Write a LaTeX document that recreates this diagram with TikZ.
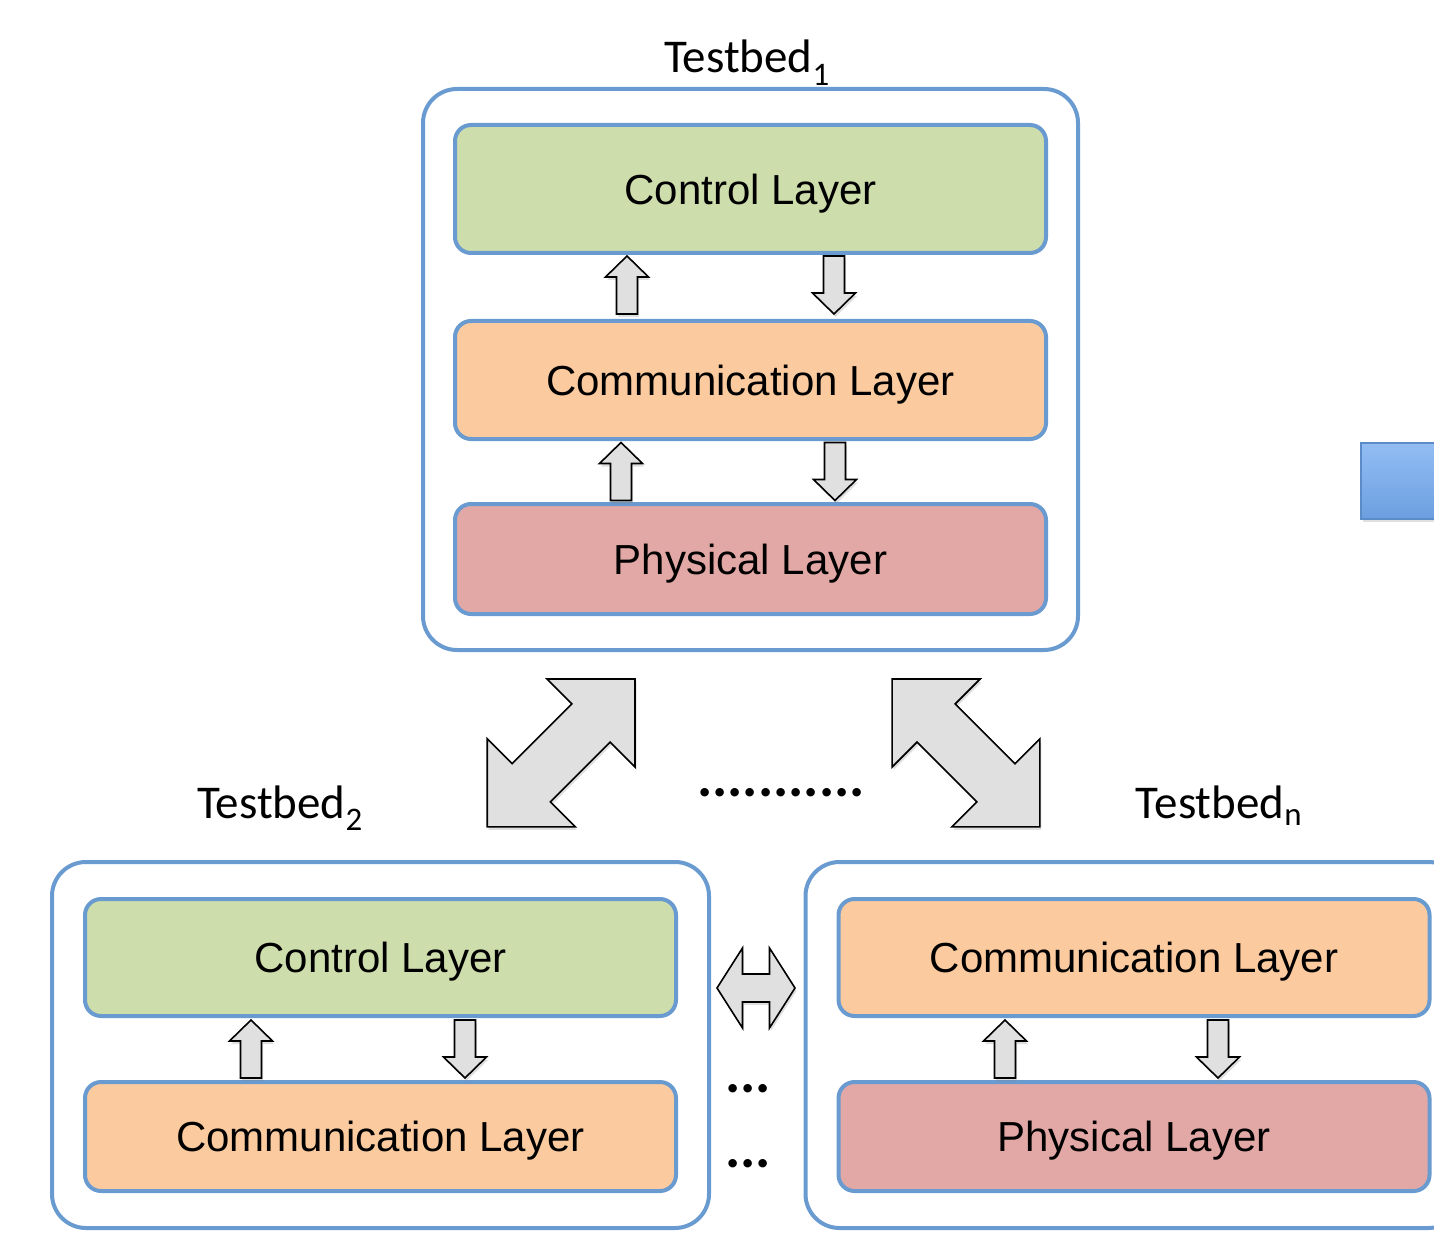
\documentclass[tikz,border=0pt]{standalone}
\usepackage{fontspec}
\setmainfont{Liberation Sans}
\newfontfamily\tbfont{Carlito}
\usetikzlibrary{positioning,fit,calc,shadows}

\definecolor{edgeblue}{HTML}{6A9BD0}
\definecolor{ctrlgreen}{HTML}{CDDDAC}
\definecolor{commorange}{HTML}{FBCB9F}
\definecolor{physred}{HTML}{E2A8A6}
\definecolor{arrowgray}{HTML}{E0E0E0}
\definecolor{blocktop}{HTML}{92BDF3}
\definecolor{blockbottom}{HTML}{6C9FE0}
\definecolor{blockedge}{HTML}{5B8CC8}

\tikzset{
  layer/.style={rectangle, rounded corners=16pt, draw=edgeblue, line width=4pt, minimum width=591pt, text depth=0pt, font=\fontsize{42}{50}\selectfont},
  testbed/.style={rectangle, rounded corners=34pt, draw=edgeblue, line width=4pt, inner xsep=31pt, inner ysep=35pt},
  tblabel/.style={font=\tbfont\fontsize{47}{56}\selectfont, anchor=base},
  dots/.style={font=\tbfont\bfseries\fontsize{57}{60}\selectfont, anchor=base},
  fatarrow/.style={draw=black, line width=1.6pt, fill=arrowgray, line join=miter, drop shadow={opacity=0.25, shadow xshift=1.5pt, shadow yshift=-3pt}},
  pics/uparrow/.style={code={
    \path[fatarrow] (0,-29) -- (21.5,-8) -- (10.5,-8) -- (10.5,29) -- (-10.5,29) -- (-10.5,-8) -- (-21.5,-8) -- cycle;}},
  pics/downarrow/.style={code={
    \path[fatarrow] (0,29) -- (21.5,8) -- (10.5,8) -- (10.5,-29) -- (-10.5,-29) -- (-10.5,8) -- (-21.5,8) -- cycle;}},
  pics/diagarrow/.style={code={
    \path[fatarrow] (73.9,-73.9) -- (73.9,14.1) -- (49,-10.8) -- (-10.8,49) -- (14.1,73.9) -- (-73.9,73.9)
      -- (-73.9,-14.1) -- (-49,10.8) -- (10.8,-49) -- (-14.1,-73.9) -- cycle;}},
  pics/sidearrow/.style={code={
    \path[fatarrow] (-39,0) -- (-13.5,-40) -- (-13.5,-14) -- (13.5,-14) -- (13.5,-40) -- (39,0)
      -- (13.5,40) -- (13.5,14) -- (-13.5,14) -- (-13.5,40) -- cycle;}},
}

\begin{document}
\begin{tikzpicture}[x=1pt, y=-1pt, node distance=62pt]
  \path[use as bounding box] (0,0) rectangle (1434,1238);
  \clip (0,0) rectangle (1434,1238);

  % testbed 1
  \node[layer, fill=ctrlgreen, minimum height=128pt] (ctrl1) at (750.5,189) {Control Layer};
  \node[layer, fill=commorange, minimum height=118pt, below=64pt of ctrl1] (comm1) {Communication Layer};
  \node[layer, fill=physred, minimum height=110pt, below=61pt of comm1] (phys1) {Physical Layer};
  \node[testbed, fit=(ctrl1)(phys1), inner xsep=30pt, inner ysep=34pt] (tb1) {};
  \node[tblabel] (lab1) at (747,73) {Testbed\textsubscript{1}};

  \pic at ($(ctrl1.south)!0.5!(comm1.north)+(-123.5,-2)$) {uparrow};
  \pic at ($(ctrl1.south)!0.5!(comm1.north)+(83.5,-2)$) {downarrow};
  \pic at ($(comm1.south)!0.5!(phys1.north)+(-129.5,0)$) {uparrow};
  \pic at ($(comm1.south)!0.5!(phys1.north)+(84.5,0)$) {downarrow};

  % testbed 2
  \node[layer, fill=ctrlgreen, minimum height=117pt] (ctrl2) at (380.5,957.5) {Control Layer};
  \node[layer, fill=commorange, minimum height=109pt, below=of ctrl2] (comm2) {Communication Layer};
  \node[testbed, fit=(ctrl2)(comm2)] (tb2) {};
  \node[tblabel] (lab2) at (280,818) {Testbed\textsubscript{2}};

  \pic at ($(ctrl2.south)!0.5!(comm2.north)+(-129.5,0)$) {uparrow};
  \pic at ($(ctrl2.south)!0.5!(comm2.north)+(84.5,0)$) {downarrow};

  % testbed n
  \node[layer, fill=commorange, minimum height=117pt] (commn) at (1134,957.5) {Communication Layer};
  \node[layer, fill=physred, minimum height=109pt, below=of commn] (physn) {Physical Layer};
  \node[testbed, fit=(commn)(physn)] (tbn) {};
  \node[tblabel] (labn) at (1219,818) {Testbed\textsubscript{n}};

  \pic at ($(commn.south)!0.5!(physn.north)+(-129,0)$) {uparrow};
  \pic at ($(commn.south)!0.5!(physn.north)+(84,0)$) {downarrow};

  % links between testbeds
  \pic at (561.1,752.9) {diagarrow};
  \pic[xscale=-1] at (966,752.9) {diagarrow};
  \pic at (756,988) {sidearrow};

  \node[dots] (dotsmid) at (781,796) {...........};
  \node[dots] (dotsup) at (748,1092) {...};
  \node[dots] (dotsdown) at (748,1167) {...};

  % block at the right edge
  \path[draw=blockedge, line width=1.5pt, top color=blocktop, bottom color=blockbottom,
        drop shadow={opacity=0.25, shadow xshift=1.5pt, shadow yshift=-3pt}]
    (1361,443) rectangle (1470,519);
\end{tikzpicture}
\end{document}
